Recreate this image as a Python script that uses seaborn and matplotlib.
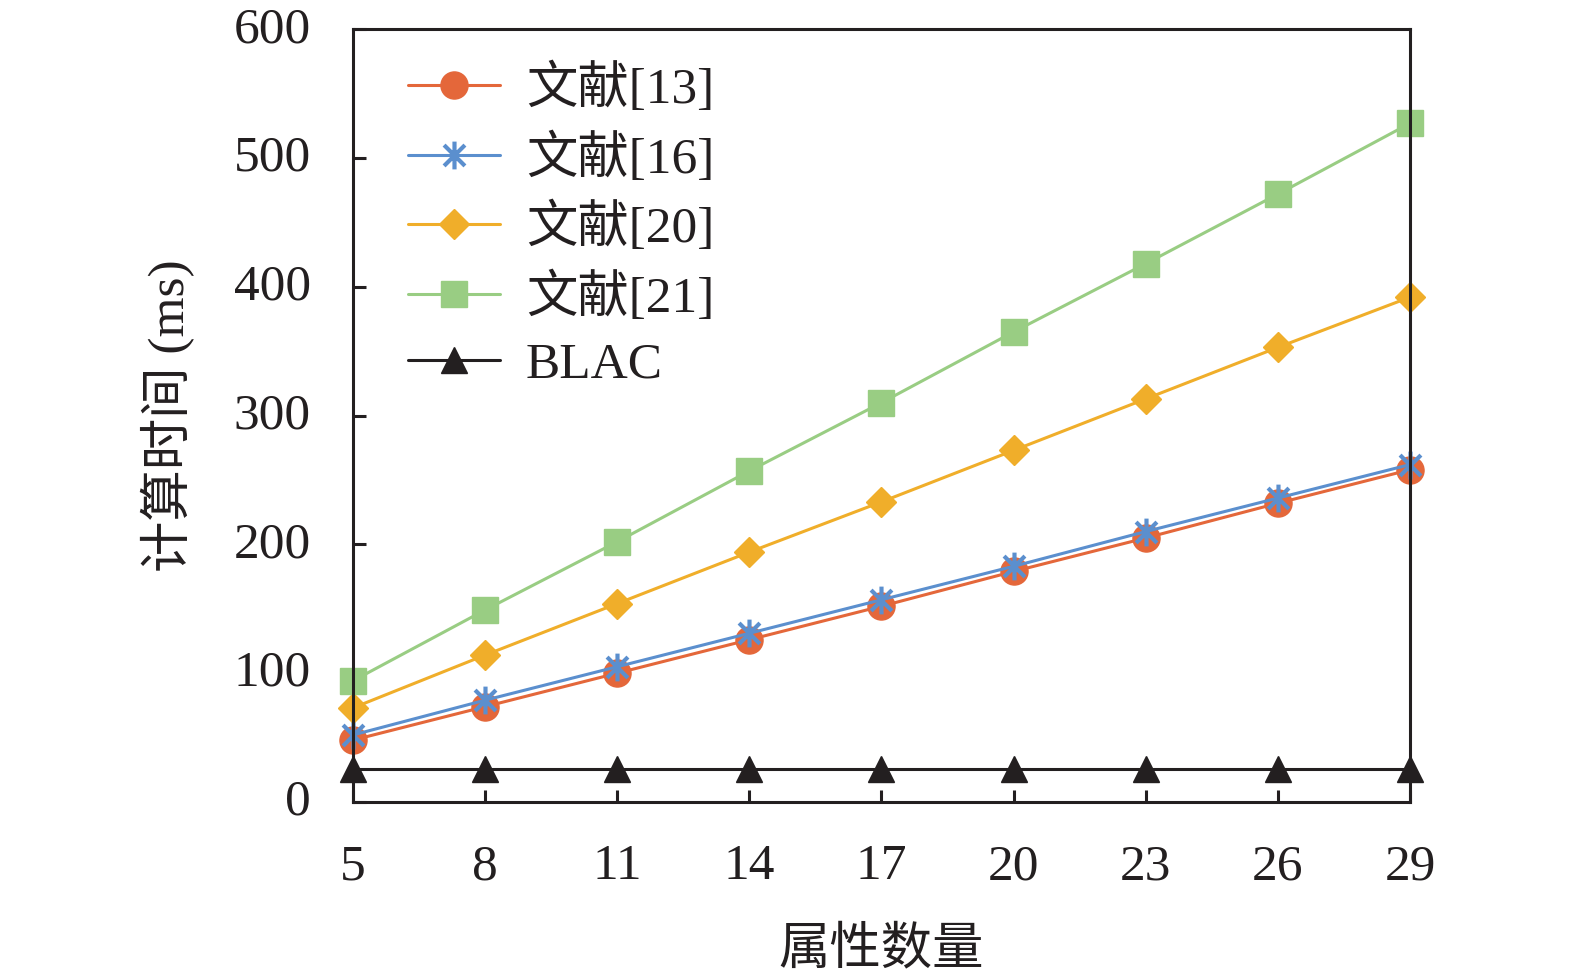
import numpy as np
import pandas as pd
import seaborn as sns
import matplotlib.pyplot as plt
from matplotlib.path import Path
from matplotlib.transforms import ScaledTranslation

# ---- data ----
attrs = [5, 8, 11, 14, 17, 20, 23, 26, 29]
ref13 = [48, 74, 100, 126, 152, 179, 205, 232, 258]
ref16 = [52, 79, 105, 131, 157, 183, 210, 236, 262]
ref20 = [73, 114, 154, 194, 233, 273, 313, 353, 392]
ref21 = [94, 149, 202, 257, 310, 365, 418, 472, 527]
blac = [26, 26, 26, 26, 26, 26, 26, 26, 26]
series_names = ["文献[13]", "文献[16]", "文献[20]", "文献[21]", "BLAC"]
yticks = [0, 100, 200, 300, 400, 500, 600]

sns.set_theme(style="white")
plt.rcParams['font.family'] = ['Liberation Serif', 'Noto Sans CJK SC']
plt.rcParams['axes.unicode_minus'] = False

fig = plt.figure(figsize=(15.75, 9.73), dpi=100)
ax = fig.add_axes([352.7/1575, 1-802/973, (1410-352.7)/1575, (802-29.3)/973])

# asterisk marker: vertical bar plus an X
star = Path([(0, -1), (0, 1), (-0.75, -0.75), (0.75, 0.75), (-0.75, 0.75), (0.75, -0.75)],
            [Path.MOVETO, Path.LINETO, Path.MOVETO, Path.LINETO, Path.MOVETO, Path.LINETO])

styles = [
    dict(color="#E4673A", marker="o", mec="#E4673A", mew=1.0, ms=19.5, mfc="#E4673A"),
    dict(color="#5B8FCE", marker=star, mec="#5B8FCE", mew=3.0, ms=20, mfc="none"),
    dict(color="#F0AE2A", marker="D", mec="#F0AE2A", mew=1.0, ms=15, mfc="#F0AE2A"),
    dict(color="#99CD83", marker="s", mec="#99CD83", mew=1.0, ms=18.5, mfc="#99CD83"),
    dict(color="#231F20", marker="^", mec="#231F20", mew=1.0, ms=19, mfc="#231F20"),
]
all_vals = [ref13, ref16, ref20, ref21, blac]

for name, vals, st in zip(series_names, all_vals, styles):
    df = pd.DataFrame({"x": attrs, "y": vals})
    sns.lineplot(data=df, x="x", y="y", ax=ax, color=st["color"],
                 marker=st["marker"], markersize=st["ms"],
                 markeredgecolor=st["mec"], markeredgewidth=st["mew"],
                 markerfacecolor=st["mfc"],
                 linewidth=2.2, label=name, clip_on=False)

ax.set_xlim(5, 29)
ax.set_ylim(0, 600)
ax.set_xticks(attrs)
ax.set_xticklabels([str(a) for a in attrs])
ax.set_yticks(yticks)
ax.set_yticklabels([str(v) for v in yticks])

for sp in ax.spines.values():
    sp.set_linewidth(2.2)
    sp.set_color("#231F20")

ax.tick_params(axis='both', direction='in', length=9, width=2.2,
               colors="#231F20", labelsize=37)
ax.tick_params(axis='x', pad=30, bottom=True, top=False)
ax.tick_params(axis='y', pad=30, left=True, right=False)
shift = ScaledTranslation(0, 5/100, fig.dpi_scale_trans)
for lab in ax.get_yticklabels():
    lab.set_transform(lab.get_transform() + shift)
for lab in ax.get_xticklabels() + ax.get_yticklabels():
    lab.set_color("#231F20")

ax.set_xlabel("属性数量", fontsize=37, color="#231F20", labelpad=26)
ax.set_ylabel("计算时间 (ms)", fontsize=37, color="#231F20", labelpad=28)

leg = ax.legend(loc="upper left", bbox_to_anchor=(0.052, 0.955),
                frameon=False, fontsize=37, handlelength=1.8,
                handletextpad=0.5, labelspacing=0.37, borderpad=0,
                borderaxespad=0)
for t in leg.get_texts():
    t.set_color("#231F20")

fig.savefig("out.png", dpi=100)
